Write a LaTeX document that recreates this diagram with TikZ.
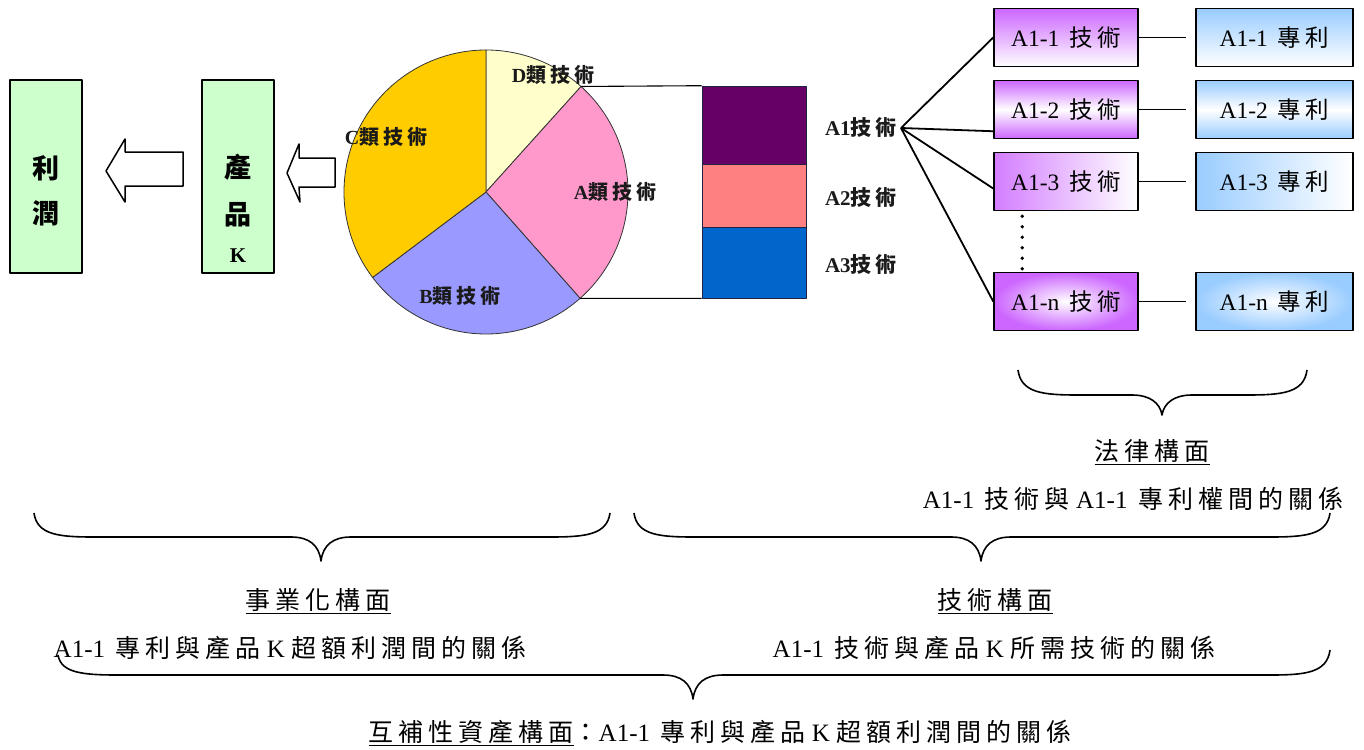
\documentclass[tikz,border=0pt]{standalone}
\usepackage{fontspec}
\setmainfont{Noto Sans CJK TC}[LetterSpace=20]
\newfontfamily\latf{Liberation Serif}
\newcommand\LT[1]{{\latf #1}}
\usetikzlibrary{calc}
\definecolor{lgreen}{HTML}{CCFFCC}
\definecolor{purp}{HTML}{CC66FF}
\definecolor{pblue}{HTML}{99CCFF}
\definecolor{pieD}{HTML}{FFFFCC}
\definecolor{pieA}{HTML}{FF99CC}
\definecolor{pieB}{HTML}{9999FF}
\definecolor{pieC}{HTML}{FFCC00}
\definecolor{barA}{HTML}{660066}
\definecolor{barB}{HTML}{FF8080}
\definecolor{barC}{HTML}{0066CC}
\definecolor{pieline}{HTML}{333333}
\definecolor{barline}{HTML}{222244}
\definecolor{lbl}{HTML}{1A1A1A}
\newcommand\mybrace[7]{%
\draw[brc] (#1,#2) .. controls (#1+3,#5-2) and (#1+25,#5) .. (#1+60,#5) -- (#6-30,#5)
  .. controls (#6-12,#5) and (#6-2,#5+8) .. (#6,#7)
  .. controls (#6+2,#5+8) and (#6+12,#5) .. (#6+30,#5) -- (#3-60,#5)
  .. controls (#3-25,#5) and (#3-3,#5-2) .. (#3,#4);}
\tikzset{
 gbox/.style={draw, line width=1.8pt, fill=lgreen, minimum width=72pt, minimum height=193pt, inner sep=0pt},
 tbox/.style={draw, line width=1.5pt, minimum width=144pt, minimum height=58pt, inner sep=0pt, font=\fontsize{23.5}{26}\selectfont},
 pbox/.style={tbox, minimum width=157pt},
 blk/.style={draw, line width=1.5pt, fill=white},
 slice/.style={draw=pieline, line width=0.8pt},
 plabel/.style={text=lbl, font=\bfseries\fontsize{20}{22}\selectfont, inner sep=0pt},
 blabel/.style={text=lbl, font=\bfseries\fontsize{21}{22}\selectfont, inner sep=0pt},
 bar/.style={draw=barline, line width=0.6pt, minimum width=104pt, inner sep=0pt},
 txt/.style={font=\fontsize{25}{28}\selectfont, inner sep=0pt},
 bigc/.style={font=\bfseries\fontsize{27}{30}\selectfont, inner sep=0pt},
 brc/.style={line width=1.6pt},
 conn/.style={line width=1.8pt},
}
\begin{document}
\begin{tikzpicture}[x=1pt,y=-1pt,line join=round]
\useasboundingbox (0,0) rectangle (1364,749);
% left boxes
\node[gbox] (profit) at (46,176.5) {};
\node[bigc] (li) at (46,168) {利};
\node[bigc] (run) at (46,213) {潤};
\node[gbox] (prod) at (238,176.5) {};
\node[bigc] (chan) at (238,167) {產};
\node[bigc] (pin) at (238,215) {品};
\node[font=\bfseries\fontsize{21}{22}\selectfont\latf, inner sep=0pt] (kk) at (238,256) {K};
% block arrows
\draw[blk] (106,171) -- (125,139) -- (125,152) -- (183,152) -- (183,186) -- (125,186) -- (125,202) -- cycle;
\draw[blk] (287,173) -- (299,144) -- (299,158) -- (335,158) -- (335,187) -- (299,187) -- (300,202) -- cycle;
% pie
\begin{scope}[shift={(486pt,-192pt)},x=1pt,y=1pt]
\filldraw[slice,fill=pieD] (0,0) -- (90:142) arc (90:48:142) -- cycle;
\filldraw[slice,fill=pieA] (0,0) -- (48:142) arc (48:-48.5:142) -- cycle;
\filldraw[slice,fill=pieB] (0,0) -- (-48.5:142) arc (-48.5:-143:142) -- cycle;
\filldraw[slice,fill=pieC] (0,0) -- (-143:142) arc (-143:-270:142) -- cycle;
\coordinate (pTop) at (48:142);
\coordinate (pBot) at (-48.5:142);
\end{scope}
\node[plabel] (ld) at (553,75) {\LT{D}類技術};
\node[plabel] (lc) at (386,137) {\LT{C}類技術};
\node[plabel] (la) at (615,192) {\LT{A}類技術};
\node[plabel] (lb) at (460,296) {\LT{B}類技術};
% bars
\node[bar, fill=barA, minimum height=78pt] (b1) at (754,125) {};
\node[bar, fill=barB, minimum height=63pt] (b2) at (754,195.5) {};
\node[bar, fill=barC, minimum height=71pt] (b3) at (754,262.5) {};
\draw[line width=1.1pt] (pTop) -- (b1.north west);
\draw[line width=1.1pt] (pBot) -- (b3.south west);
\node[blabel] (a1) at (861,128) {\LT{A1}技術};
\node[blabel] (a2) at (861,198) {\LT{A2}技術};
\node[blabel] (a3) at (861,265) {\LT{A3}技術};
\coordinate (fan) at (901,128);
% right boxes
\node[tbox, top color=purp, bottom color=white] (t1) at (1066,37.5) {\LT{A1-1} 技術};
\node[tbox, top color=purp, bottom color=purp, middle color=white] (t2) at (1066,109.5) {\LT{A1-2} 技術};
\node[tbox, left color=purp!85, right color=white] (t3) at (1066,181.5) {\LT{A1-3} 技術};
\node[tbox, inner color=white, outer color=purp] (tn) at (1066,301.5) {\LT{A1-n} 技術};
\node[pbox, top color=pblue, bottom color=white] (p1) at (1274.5,37.5) {\LT{A1-1} 專利};
\node[pbox, top color=pblue, bottom color=pblue, middle color=white] (p2) at (1274.5,109.5) {\LT{A1-2} 專利};
\node[pbox, left color=pblue, right color=white] (p3) at (1274.5,181.5) {\LT{A1-3} 專利};
\node[pbox, inner color=white, outer color=pblue] (pn) at (1274.5,301.5) {\LT{A1-n} 專利};
\draw[conn] (fan) -- (t1.west);
\draw[conn] (fan) -- ([yshift=8pt]t2.south west);
\draw[conn] (fan) -- ([yshift=-7pt]t3.west);
\draw[conn] (fan) -- (tn.west);
\draw[conn, shorten >=9pt] (t1.east) -- (p1.west);
\draw[conn, shorten >=9pt] (t2.east) -- (p2.west);
\draw[conn, shorten >=9pt] (t3.east) -- (p3.west);
\draw[conn, shorten >=9pt] (tn.east) -- (pn.west);
\draw[line width=3.6pt, line cap=round, dash pattern=on 0pt off 10.5pt] ([xshift=29pt,yshift=-5pt]t3.south west) -- ([xshift=29pt,yshift=2pt]tn.north west);
% braces
\mybrace{1018}{370}{1307}{370}{395}{1162}{415}
\mybrace{34}{513}{610}{513}{537}{321}{561}
\mybrace{634}{513}{1330}{513}{537}{981}{561}
\mybrace{58}{655}{1330}{650}{675}{693}{699}
% texts
\node[txt] (legal) at (1152,452) {\underline{法律構面}};
\node[txt] (legald) at (1133,499) {\LT{A1-1} 技術與\LT{ A1-1} 專利權間的關係};
\node[txt] (biz) at (318,601) {\underline{事業化構面}};
\node[txt] (bizd) at (290,648) {\LT{A1-1} 專利與產品\LT{ K }超額利潤間的關係};
\node[txt] (tech) at (995,601) {\underline{技術構面}};
\node[txt] (techd) at (994,648) {\LT{A1-1} 技術與產品\LT{ K }所需技術的關係};
\node[txt] (comp) at (720,733) {\underline{互補性資產構面}：\LT{A1-1} 專利與產品\LT{ K }超額利潤間的關係};
\end{tikzpicture}
\end{document}
